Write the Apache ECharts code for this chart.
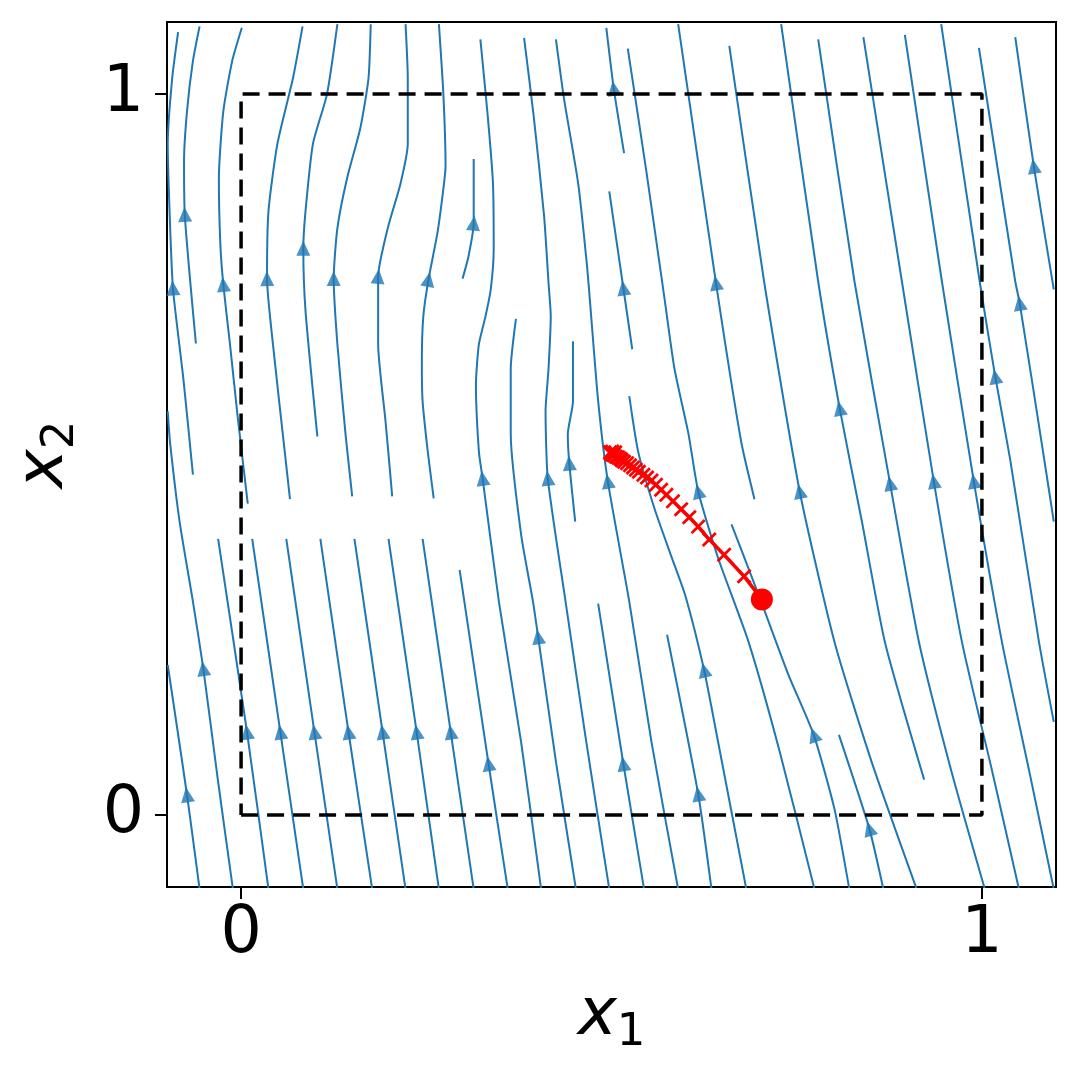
<!DOCTYPE html>
<html>
<head>
<meta charset="utf-8">
<script src="https://cdn.jsdelivr.net/npm/echarts@6.0.0/dist/echarts.min.js"></script>
<style>
  html, body { margin: 0; padding: 0; background: #fff; }
  #chart { width: 1076px; height: 1065px; }
</style>
</head>
<body>
<div id="chart"></div>
<script>
// streamlines, each listed from its top end to its bottom end (flow goes upward)
const streamlines = [
  [[-0.085,1.086],[-0.093,1.022],[-0.099,0.931],[-0.097,0.851],[-0.092,0.731],[-0.078,0.606],[-0.065,0.472]],
  [[-0.056,1.094],[-0.065,1.046],[-0.073,0.976],[-0.077,0.907],[-0.076,0.833],[-0.069,0.744],[-0.061,0.654]],
  [[0.001,1.092],[-0.012,1.046],[-0.024,0.976],[-0.030,0.883],[-0.028,0.792],[-0.024,0.736],[-0.015,0.653],[-0.005,0.556],[0.009,0.432]],
  [[0.083,1.094],[0.070,1.022],[0.049,0.931],[0.037,0.838],[0.035,0.744],[0.043,0.653],[0.060,0.494],[0.066,0.438]],
  [[0.130,1.097],[0.116,1.000],[0.097,0.931],[0.087,0.838],[0.084,0.786],[0.087,0.699],[0.103,0.525]],
  [[0.175,1.097],[0.172,1.022],[0.161,0.953],[0.143,0.883],[0.130,0.814],[0.125,0.744],[0.130,0.653],[0.141,0.528],[0.150,0.442]],
  [[0.222,1.097],[0.225,1.022],[0.225,0.931],[0.215,0.875],[0.198,0.814],[0.185,0.747],[0.185,0.653],[0.195,0.546],[0.204,0.442]],
  [[0.267,1.097],[0.273,1.001],[0.276,0.900],[0.273,0.868],[0.265,0.807],[0.253,0.743],[0.246,0.692],[0.244,0.629],[0.245,0.574],[0.252,0.504],[0.260,0.439]],
  [[0.314,0.910],[0.314,0.849],[0.314,0.821],[0.307,0.775],[0.299,0.744]],
  [[0.323,1.076],[0.333,0.969],[0.340,0.876],[0.341,0.785],[0.337,0.729],[0.330,0.692],[0.321,0.653],[0.317,0.597],[0.321,0.504],[0.326,0.467],[0.348,0.296],[0.378,0.101],[0.405,-0.103]],
  [[0.371,0.688],[0.364,0.619],[0.364,0.528],[0.378,0.389],[0.394,0.296],[0.401,0.247],[0.425,0.074],[0.452,-0.103]],
  [[0.382,1.078],[0.395,0.969],[0.409,0.831],[0.415,0.738],[0.418,0.692],[0.415,0.619],[0.411,0.560],[0.414,0.467],[0.438,0.296],[0.466,0.101],[0.497,-0.103]],
  [[0.448,0.657],[0.448,0.574],[0.441,0.528],[0.443,0.488],[0.451,0.407]],
  [[0.425,1.076],[0.436,0.993],[0.455,0.876],[0.467,0.761],[0.472,0.699],[0.482,0.574],[0.495,0.463],[0.524,0.296],[0.554,0.101],[0.590,-0.103]],
  [[0.493,1.092],[0.503,1.008],[0.517,0.918]],
  [[0.497,0.865],[0.516,0.731],[0.528,0.646]],
  [[0.524,0.581],[0.536,0.504],[0.558,0.425],[0.581,0.358],[0.600,0.303],[0.625,0.201],[0.643,0.106],[0.682,-0.103]],
  [[0.522,1.063],[0.547,0.893],[0.572,0.713],[0.585,0.619],[0.604,0.528],[0.617,0.449],[0.644,0.356],[0.685,0.240],[0.727,0.088],[0.774,-0.103]],
  [[0.590,1.097],[0.641,0.738],[0.675,0.518],[0.693,0.438]],
  [[0.662,0.403],[0.702,0.296],[0.739,0.194],[0.773,0.111],[0.801,0.008],[0.821,-0.103]],
  [[0.659,1.067],[0.706,0.740],[0.754,0.449],[0.801,0.240],[0.851,0.074],[0.912,-0.103]],
  [[0.729,1.097],[0.779,0.740],[0.808,0.564],[0.838,0.407],[0.869,0.240],[0.922,0.049]],
  [[0.779,1.076],[0.828,0.740],[0.876,0.460],[0.915,0.240],[0.959,0.060],[1.004,-0.103]],
  [[0.840,1.079],[0.892,0.740],[0.935,0.463],[0.973,0.240],[1.014,0.060],[1.050,-0.103]],
  [[0.896,1.082],[0.946,0.740],[0.989,0.463],[1.027,0.240],[1.064,0.060],[1.097,-0.103]],
  [[0.945,1.097],[0.997,0.740],[1.018,0.608],[1.038,0.494],[1.077,0.240],[1.097,0.129]],
  [[0.996,1.064],[1.045,0.740],[1.051,0.710],[1.084,0.494],[1.097,0.407]],
  [[1.045,1.079],[1.070,0.900],[1.097,0.729]],
  [[0.807,0.111],[0.848,-0.019],[0.867,-0.103]],
  [[0.575,0.250],[0.617,0.029],[0.635,-0.103]],
  [[0.482,0.293],[0.516,0.071],[0.544,-0.103]],
  [[0.295,0.340],[0.334,0.071],[0.360,-0.103]],
  [[-0.099,0.208],[-0.073,0.028],[-0.056,-0.103]],
  [[-0.099,0.560],[-0.096,0.518],[-0.083,0.407],[-0.065,0.296],[-0.051,0.203],[-0.031,0.046],[-0.011,-0.103]],
  [[-0.031,0.383],[0.008,0.115],[0.037,-0.103]],
  [[0.015,0.383],[0.053,0.115],[0.084,-0.103]],
  [[0.061,0.383],[0.099,0.115],[0.130,-0.103]],
  [[0.107,0.383],[0.145,0.115],[0.177,-0.103]],
  [[0.153,0.383],[0.191,0.115],[0.222,-0.103]],
  [[0.199,0.383],[0.237,0.115],[0.267,-0.103]],
  [[0.245,0.383],[0.283,0.115],[0.314,-0.103]]
];

// one arrow head per streamline, same order
const arrowHeads = [
  [-0.092,0.731],[-0.076,0.833],[-0.024,0.736],[0.035,0.744],[0.084,0.786],
  [0.125,0.744],[0.185,0.747],[0.253,0.743],[0.314,0.821],[0.326,0.467],
  [0.401,0.247],[0.414,0.467],[0.443,0.488],[0.495,0.463],[0.503,1.008],
  [0.516,0.731],[0.625,0.201],[0.617,0.449],[0.641,0.738],[0.773,0.111],
  [0.754,0.449],[0.808,0.564],[0.876,0.460],[0.935,0.463],[0.989,0.463],
  [1.018,0.608],[1.051,0.710],[1.070,0.900],[0.848,-0.019],[0.617,0.029],
  [0.516,0.071],[0.334,0.071],[-0.073,0.028],[-0.051,0.203],
  [0.008,0.115],[0.053,0.115],[0.099,0.115],[0.145,0.115],[0.191,0.115],[0.237,0.115],[0.283,0.115]
];

// dashed unit box
const boxCorners = [[0,0],[1,0],[1,1],[0,1],[0,0]];

// red iterate path, starting point first
const trajectory = [
  [0.703,0.299],[0.679,0.331],[0.652,0.361],[0.632,0.382],[0.617,0.400],[0.605,0.413],
  [0.594,0.424],[0.583,0.435],[0.574,0.444],[0.567,0.451],[0.560,0.458],[0.554,0.464],
  [0.548,0.468],[0.543,0.472],[0.537,0.476],[0.533,0.479],[0.529,0.482],[0.525,0.485],
  [0.521,0.488],[0.517,0.490],[0.514,0.492],[0.512,0.494],[0.509,0.496],[0.506,0.497],
  [0.503,0.499],[0.501,0.500],[0.499,0.501],[0.498,0.503],[0.501,0.504],[0.505,0.503]
];

const tickValues = [0, 1];

const FONT = 'DejaVu Sans';
const BLUE = '#1f77b4';
const RED = '#ff0000';
const CROSS = 'path://M0,1.3L1.3,0L5,3.7L8.7,0L10,1.3L6.3,5L10,8.7L8.7,10L5,6.3L1.3,10L0,8.7L3.7,5Z';

const chart = echarts.init(document.getElementById('chart'));

function makeAxis(name, gap, margin, rotate) {
  return {
    type: 'value',
    min: -0.1,
    max: 1.1,
    name: name,
    nameLocation: 'middle',
    nameGap: gap,
    nameRotate: rotate,
    nameTextStyle: {
      rich: {
        i: { fontFamily: FONT, fontStyle: 'italic', fontSize: 66, color: '#000' },
        s: { fontFamily: FONT, fontSize: 45, color: '#000', verticalAlign: 'bottom', padding: [34, 0, 0, 0] }
      }
    },
    axisLine: { show: true, onZero: false, lineStyle: { color: '#000', width: 2 } },
    axisTick: { show: true, customValues: tickValues, length: 12, lineStyle: { color: '#000', width: 2 } },
    axisLabel: { customValues: tickValues, fontFamily: FONT, fontSize: 65, color: '#000', margin: margin },
    splitLine: { show: false }
  };
}

const lineSeries = streamlines.map(function (line) {
  return {
    type: 'line',
    data: line,
    symbol: 'none',
    smooth: 0.2,
    silent: true,
    lineStyle: { color: BLUE, width: 2 },
    z: 2
  };
});

chart.setOption({
  animation: false,
  grid: { left: 167, top: 22, right: 20, bottom: 178, show: true, borderColor: '#000', borderWidth: 2 },
  xAxis: makeAxis('{i|x}{s|1}', 90, 16, 0),
  yAxis: makeAxis('{i|x}{s|2}', 83, 23, 90),
  series: lineSeries.concat([
    {
      id: 'heads',
      type: 'scatter',
      data: arrowHeads,
      symbol: 'triangle',
      symbolSize: [14, 15],
      itemStyle: { color: BLUE },
      silent: true,
      z: 3
    },
    {
      type: 'line',
      data: boxCorners,
      symbol: 'none',
      silent: true,
      lineStyle: { color: '#000', width: 3.5, type: [17, 9] },
      z: 5
    },
    {
      type: 'line',
      data: trajectory.map(function (p, i) {
        return i === 0 ? { value: p, symbol: 'circle', symbolSize: 22 } : p;
      }),
      symbol: CROSS,
      symbolSize: 15,
      showAllSymbol: true,
      silent: true,
      lineStyle: { color: RED, width: 3.5 },
      itemStyle: { color: RED },
      z: 6
    }
  ])
});

// turn each arrow head along its streamline
function headingDeg(line, head) {
  let k = 0, best = Infinity;
  line.forEach(function (p, j) {
    const d = Math.hypot(p[0] - head[0], p[1] - head[1]);
    if (d < best) { best = d; k = j; }
  });
  const up = chart.convertToPixel({ gridIndex: 0 }, line[Math.max(k - 1, 0)]);
  const dn = chart.convertToPixel({ gridIndex: 0 }, line[Math.min(k + 1, line.length - 1)]);
  return Math.atan2(-(up[0] - dn[0]), -(up[1] - dn[1])) * 180 / Math.PI;
}

chart.setOption({
  series: [{
    id: 'heads',
    data: arrowHeads.map(function (p, i) {
      return { value: p, symbolRotate: headingDeg(streamlines[i], p) };
    })
  }]
});
</script>
</body>
</html>
